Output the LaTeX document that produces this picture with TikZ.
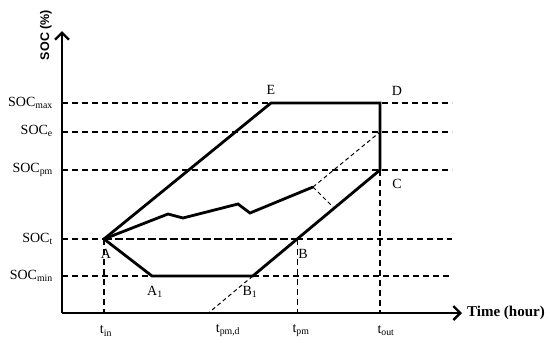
\documentclass[tikz,border=0pt]{standalone}
\usepackage{fontspec}
\setmainfont{Liberation Serif}
\newfontfamily\axsans{Liberation Sans}
\usetikzlibrary{arrows.meta}
\tikzset{
  axisline/.style={line width=2.8pt, -{Straight Barb[length=7pt,width=14pt,line width=2.4pt]}},
  curve/.style={line width=2.8pt, line join=miter},
  guide/.style={line width=1.3pt, dash pattern=on 6pt off 4pt},
  thickguide/.style={line width=2.4pt, dash pattern=on 8pt off 3pt},
  thinguide/.style={line width=1pt, dash pattern=on 4pt off 3pt},
  lbl/.style={font=\fontsize{14}{16}\selectfont, inner sep=1pt},
  ylbl/.style={font=\fontsize{14}{16}\selectfont, anchor=east, inner sep=1pt},
}
\begin{document}
\begin{tikzpicture}[x=1pt,y=-1pt]
\useasboundingbox (0,0) rectangle (550,343);
% key coordinates
\coordinate (O) at (62,313);
\coordinate (Ytop) at (62,31);
\coordinate (Xend) at (462,313);
\coordinate (A) at (104,239);
\coordinate (A1) at (152,276);
\coordinate (B1) at (252.8,276);
\coordinate (B) at (297.2,239);
\coordinate (C) at (380,170);
\coordinate (D) at (380,103);
\coordinate (E) at (271,103);
\coordinate (F) at (208.4,313);
\coordinate (P) at (313,187);
\coordinate (Q) at (334,208);
\coordinate (R) at (380,132);
\coordinate (Tin) at (104,313);
\coordinate (Tpm) at (297.2,313);
\coordinate (Tout) at (380,313);
\coordinate (Lmax) at (62,103);
\coordinate (Le) at (62,132);
\coordinate (Lpm) at (62,170);
\coordinate (Lt) at (62,239);
\coordinate (Lmin) at (62,276);
\coordinate (Rmax) at (452,103);
\coordinate (Re) at (452,132);
\coordinate (Rpm) at (452,170);
\coordinate (Rt) at (452,239);
\coordinate (Rmin) at (452,276);
% horizontal guides
\draw[guide] (Lmax) -- (Rmax);
\draw[guide] (Le) -- (Re);
\draw[guide] (Lpm) -- (Rpm);
\draw[guide] (Lt) -- (A);
\draw[guide] (B) -- (Rt);
\draw[guide] (Lmin) -- (A1);
\draw[guide] (B1) -- (Rmin);
\draw[thickguide] (A) -- (B);
% vertical guides
\draw[guide] (A) -- (Tin);
\draw[guide] (B) -- (Tpm);
\draw[guide] (C) -- (Tout);
% thin dashed construction lines
\draw[thinguide] (B1) -- (F);
\draw[thinguide] (P) -- (R);
\draw[thinguide] (P) -- (Q);
% solid boundary
\draw[curve] (A) -- (E) -- (D) -- (C) -- (B1) -- (A1) -- (A);
% trajectory
\draw[curve] (A) -- (168,214) -- (183,218) -- (238,204) -- (250,213) -- (P);
% axes
\draw[axisline] (O) -- (Ytop);
\draw[axisline] (O) -- (Xend);
% axis titles
\node[font=\axsans\bfseries\fontsize{12.5}{14}\selectfont, rotate=90, anchor=center] (ytitle) at (46,35) {SOC (\%)};
\node[font=\bfseries\fontsize{15}{17}\selectfont, anchor=west, inner sep=0pt] (xtitle) at (467,313) {Time (hour)};
% y labels
\node[ylbl] (smax) at (54,103) {SOC\textsubscript{max}};
\node[ylbl] (se) at (54,131) {SOC\textsubscript{e}};
\node[ylbl] (spm) at (54,170) {SOC\textsubscript{pm}};
\node[ylbl] (st) at (54,239) {SOC\textsubscript{t}};
\node[ylbl] (smin) at (54,276) {SOC\textsubscript{min}};
% x labels
\node[lbl] (xtin) at (106,331) {t\textsubscript{in}};
\node[lbl] (xtpmd) at (228,331) {t\textsubscript{pm,d}};
\node[lbl] (xtpm) at (301,331) {t\textsubscript{pm}};
\node[lbl] (xtout) at (386,331) {t\textsubscript{out}};
% point labels
\node[lbl] (lA) at (106,254) {A};
\node[lbl] (lA1) at (155,292) {A\textsubscript{1}};
\node[lbl] (lB1) at (250,292) {B\textsubscript{1}};
\node[lbl] (lB) at (303,254) {B};
\node[lbl] (lC) at (397,184) {C};
\node[lbl] (lD) at (397,91) {D};
\node[lbl] (lE) at (271,90) {E};
\end{tikzpicture}
\end{document}
